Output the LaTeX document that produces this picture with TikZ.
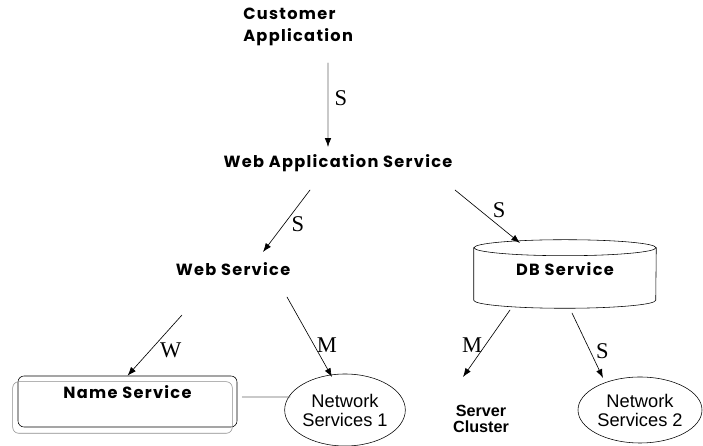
\documentclass[tikz,border=0pt]{standalone}
\usepackage{fontspec}
\newfontfamily\svcfont{Poppins}[LetterSpace=8]
\newfontfamily\netfont{Liberation Sans}
\newfontfamily\tagfont{Liberation Serif}
\usepackage{tikz}
\usetikzlibrary{arrows.meta}
\usetikzlibrary{shapes,positioning}
\tikzset{>={Latex[length=2.2mm,width=1.6mm]}}

\begin{document}
\begin{tikzpicture}[line cap=round,
    svc/.style={font=\svcfont\bfseries\fontsize{11.5}{15.5}\selectfont, inner sep=0pt},
    net/.style={draw, ellipse, inner sep=0pt, align=center,
      font=\netfont\fontsize{13}{13.5}\selectfont},
    tag/.style={font=\tagfont\fontsize{16}{16}\selectfont, inner sep=0pt},
    flow/.style={->, line width=0.45pt}]

    \useasboundingbox (0,0) rectangle (17.575,11.15);

    \node [svc, align=left, anchor=west] (cust) at (6.075,10.475) {Customer\\Application};
    \node [svc] (webapp) at (8.45,7.075) {Web Application Service};
    \node [svc] (websvc) at (5.825,4.425) {Web Service};

    \node [svc, minimum width=4.55cm, minimum height=1.7cm, text depth=0.25cm] (db) at (14.125,4.3) {DB Service};
    \draw ([yshift=-0.2cm]db.north) ellipse [x radius=2.275cm, y radius=0.2cm];
    \draw ([yshift=-0.2cm]db.north west) -- ([yshift=0.2cm]db.south west)
      arc [start angle=180, end angle=360, x radius=2.275cm, y radius=0.2cm]
      -- ([yshift=-0.2cm]db.north east);

    \node [svc, draw, rounded corners=0.15cm, minimum width=5.475cm, minimum height=1.275cm,
      text height=0.3cm, text depth=0.425cm] (name) at (3.1875,1.1125) {Name Service};
    \draw [black!45, rounded corners=0.15cm] ([shift={(-0.125,-0.15)}]name.south west)
      rectangle ([shift={(-0.125,-0.15)}]name.north east);

    \node [net, minimum width=2.9cm, minimum height=1.8cm] (ns1) at (8.625,0.9) {Network\\Services 1};
    \node [net, minimum width=3.1cm, minimum height=1.65cm] (ns2) at (16.0,0.9) {Network\\Services 2};
    \node [align=center, inner sep=0pt, font=\netfont\bfseries\fontsize{11.5}{11}\selectfont]
      (cluster) at (12.025,0.675) {Server\\Cluster};

    \draw [flow, black!60, -{Latex[length=2.2mm,width=1.6mm,black]}]
      ([shift={(2.125,-0.9)}]cust.west) -- ([shift={(-0.25,0.4)}]webapp.center);
    \draw [flow] ([shift={(-0.7,-0.675)}]webapp.center) -- ([shift={(0.75,0.425)}]websvc.center);
    \draw [flow] ([shift={(2.925,-0.675)}]webapp.center) -- ([shift={(-1.125,0.775)}]db.center);
    \draw [flow] ([shift={(-1.275,-1.15)}]websvc.center) -- (name.north);
    \draw [flow] ([shift={(1.35,-0.7)}]websvc.center) -- ([shift={(-0.325,0.825)}]ns1.center);
    \draw [flow] ([shift={(-1.375,-0.9)}]db.center) -- ([shift={(-0.45,1.05)}]cluster.center);
    \draw [flow] ([shift={(0.175,-0.975)}]db.center) -- ([shift={(-0.925,0.8)}]ns2.center);

    \draw [black!60, line width=0.7pt] ([shift={(0.125,0.1125)}]name.east) -- ([shift={(-1.375,0.325)}]ns1.center);

    \node [tag] (sa) at (8.525,8.7) {S};
    \node [tag] (sb) at (7.45,5.55) {S};
    \node [tag] (sc) at (12.475,5.9) {S};
    \node [tag] (wa) at (4.27,2.38) {W};
    \node [tag] (ma) at (8.17,2.51) {M};
    \node [tag] (mb) at (11.8,2.51) {M};
    \node [tag] (sd) at (15.06,2.36) {S};

\end{tikzpicture}
\end{document}
